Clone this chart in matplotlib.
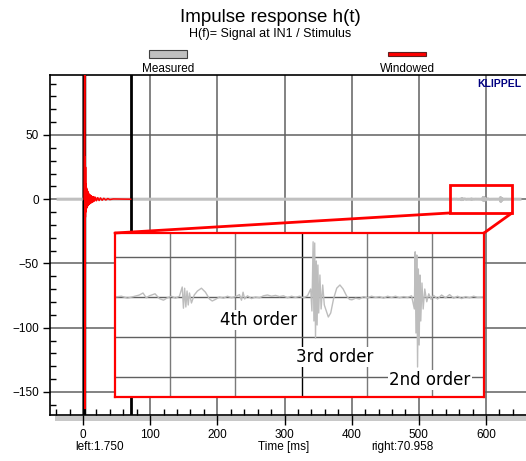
import matplotlib.pyplot as plt
from matplotlib.patches import Rectangle, ConnectionPatch
from matplotlib.ticker import MultipleLocator

plt.rcParams['font.family'] = ['Liberation Sans', 'DejaVu Sans']

# Measured impulse response (grey), ms / amplitude
meas_t = [-37.0, 546.4, 548.0, 549.5, 551.0, 552.5, 553.4, 554.2, 555.0, 556.4, 557.5, 558.5,
          559.5, 560.5, 561.5, 562.5, 563.2, 563.5, 563.8, 564.1, 564.4, 564.7, 565.0, 565.5,
          566.2, 567.0, 568.0, 569.0, 570.0, 570.7, 571.5, 572.5, 573.5, 574.5, 575.5, 576.5,
          577.5, 578.0, 578.4, 578.8, 579.5, 580.5, 581.5, 582.5, 583.5, 584.5, 585.5, 586.5,
          587.5, 588.5, 589.5, 590.5, 591.5, 592.5, 593.5, 594.5, 595.3, 595.6, 595.9, 596.1,
          596.3, 596.5, 596.7, 596.9, 597.1, 597.3, 597.6, 597.9, 598.3, 598.7, 599.2, 599.7,
          600.3, 601.0, 601.8, 602.6, 603.4, 604.3, 605.0, 605.6, 606.5, 607.5, 608.5, 609.5,
          610.5, 611.5, 612.5, 613.5, 614.5, 615.5, 616.5, 617.5, 618.5, 619.5, 620.5, 621.2,
          621.4, 621.6, 621.8, 622.0, 622.2, 622.4, 622.6, 622.8, 623.1, 623.4, 623.8, 624.3,
          624.8, 625.4, 626.0, 627.0, 628.0, 629.0, 630.0, 631.0, 632.0, 633.0, 634.0, 635.0,
          636.0, 637.0, 638.6, 645.0, 650.5]
meas_v = [0.0, 0.0, 0.02, -0.03, 0.01, 0.05, 0.10, -0.02, 0.03, 0.08, -0.04, -0.08,
          -0.02, 0.02, -0.03, 0.02, 0.25, -0.28, 0.22, -0.25, 0.15, -0.20, 0.10, -0.15,
          0.05, 0.15, 0.22, 0.12, -0.05, -0.10, -0.06, 0.00, -0.03, 0.02, -0.02, 0.01,
          0.06, -0.08, 0.12, -0.05, 0.03, -0.04, 0.00, -0.02, 0.03, 0.05, 0.02, 0.04,
          0.01, 0.03, -0.02, 0.02, -0.01, 0.02, -0.02, 0.03, 0.20, -0.35, 1.38, -0.60,
          1.35, -1.03, 0.90, -0.70, 0.80, -0.40, 0.55, -0.30, 0.30, -0.20, -0.35, -0.50,
          -0.40, -0.05, 0.22, 0.30, 0.20, 0.02, -0.06, -0.07, -0.03, -0.05, 0.01, -0.02,
          0.02, -0.01, 0.01, -0.03, 0.02, -0.01, 0.02, -0.02, 0.01, -0.01, 0.03, -0.30,
          1.13, -0.90, 1.05, -1.75, 0.70, -1.20, 0.55, -0.60, 0.35, -0.30, 0.20, -0.12,
          0.08, -0.06, 0.04, -0.05, 0.05, -0.02, 0.06, -0.03, 0.02, -0.04, 0.01, -0.02,
          0.02, -0.01, 0.00, 0.00, 0.00]

# Windowed impulse response (red)
win_t = [1.75, 2.6, 3.0, 3.3, 3.6, 3.9, 4.2, 4.5, 4.8, 5.1, 5.4, 5.7, 6.0, 6.4, 6.8, 7.2,
         7.6, 8.0, 8.5, 9.0, 9.5, 10.0, 10.6, 11.2, 11.8, 12.5, 13.2, 14.0, 15.0, 16.0,
         17.0, 18.5, 20.0, 22.0, 24.0, 26.0, 28.5, 31.0, 34.0, 37.0, 40.0, 45.0, 70.958]
win_v = [0, 120, -163, 33, -14, 25, -10, 12, -9, 9, -7, 8, -6, 7, -5, 6,
         -5, 5, -4, 4, -4, 3.5, -3, 3, -3, 2.5, -2.5, 2, -2, 2,
         -1.5, 1.5, -1.2, 1.2, -1, 1, -0.8, 0.7, -0.6, 0.5, -0.3, 0.2, 0]

win_left, win_right = 1.750, 70.958
zoom_box = (546.4, 638.7, -10.7, 11.1)
inset_grid_x = [560.1, 576.4, 609.4, 625.6]
inset_black_x = 593.1
inset_grid_y = [1, 0, -1, -2]
orders = ['4th order', '3rd order', '2nd order']
order_t = [582.2, 601.4, 625.0]
order_v = [-0.575, -1.5, -2.075]

W, H = 526, 461
fig = plt.figure(figsize=(W / 100, H / 100), dpi=100)
ax = fig.add_axes([50 / W, 46 / H, 476 / W, 340 / H])
ax.set_xlim(-49.1, 659.5)
ax.set_ylim(-168, 96.7)

ax.xaxis.set_major_locator(MultipleLocator(100))
ax.xaxis.set_minor_locator(MultipleLocator(20))
ax.yaxis.set_major_locator(MultipleLocator(50))
ax.yaxis.set_minor_locator(MultipleLocator(10))
ax.grid(True, which='major', color='#606060', lw=1.1)
ax.tick_params(axis='x', which='major', direction='out', length=7, width=1, labelsize=8.5, pad=3)
ax.tick_params(axis='y', which='major', direction='out', length=5, width=1, labelsize=8.5, pad=3)
ax.tick_params(which='minor', direction='in', length=4, width=1)
ax.spines['right'].set_visible(False)
for s in ('left', 'bottom', 'top'):
    ax.spines[s].set_linewidth(1.2)

ax.plot(meas_t, meas_v, color='#c0c0c0', lw=2.2, zorder=3)
ax.axvline(win_left, color='black', lw=2.5, zorder=4)
ax.axvline(win_right, color='black', lw=2, zorder=4)
ax.plot(win_t, win_v, color='red', lw=1.1, zorder=5)

x0, x1, y0, y1 = zoom_box
ax.add_patch(Rectangle((x0, y0), x1 - x0, y1 - y0, fill=False, edgecolor='red', lw=2, zorder=6))

# inset magnifying the zoom box
axin = fig.add_axes([115 / W, 64 / H, 369 / W, 164 / H])
axin.set_facecolor('white')
axin.set_xlim(546.4, 638.6)
axin.set_ylim(-2.5, 1.6)
axin.set_xticks([])
axin.set_yticks([])
for x in inset_grid_x:
    axin.axvline(x, color='#7a7a7a', lw=1, zorder=1)
axin.axvline(inset_black_x, color='black', lw=1, zorder=1)
for y in inset_grid_y:
    axin.axhline(y, color='#606060', lw=1, zorder=1)
axin.plot(meas_t, meas_v, color='#bdbdbd', lw=1, zorder=2)
for s in axin.spines.values():
    s.set_edgecolor('red')
    s.set_linewidth(1.6)
for txt, t, v in zip(orders, order_t, order_v):
    axin.text(t, v, txt, family='DejaVu Sans', fontsize=12, ha='center', va='center',
              bbox=dict(facecolor='white', edgecolor='none', pad=1), zorder=3)

for xy_src, xy_dst in (((x0, y0), (0, 1)), ((x1, y0), (1, 1))):
    con = ConnectionPatch(xyA=xy_src, coordsA=ax.transData, xyB=xy_dst, coordsB=axin.transAxes,
                          color='red', lw=2)
    fig.add_artist(con)

# shadow under x axis
fig.patches.append(Rectangle((55 / W, 40 / H), 471 / W, 5 / H, transform=fig.transFigure,
                             facecolor='#c8c8c8', edgecolor='none', zorder=-1))

# titles and legend
fig.text(270 / W, 1 - 18 / H, 'Impulse response h(t)', ha='center', va='center', fontsize=13.5)
fig.text(270 / W, 1 - 34 / H, 'H(f)= Signal at IN1 / Stimulus', ha='center', va='center', fontsize=9)
fig.patches.append(Rectangle((149 / W, 1 - 58 / H), 38 / W, 8 / H, transform=fig.transFigure,
                             facecolor='#c0c0c0', edgecolor='#404040', lw=0.8))
fig.patches.append(Rectangle((388 / W, 1 - 56.5 / H), 38 / W, 4.5 / H, transform=fig.transFigure,
                             facecolor='red', edgecolor='#602020', lw=0.8))
fig.text(168 / W, 1 - 69 / H, 'Measured', ha='center', va='center', fontsize=8.5)
fig.text(407 / W, 1 - 69 / H, 'Windowed', ha='center', va='center', fontsize=8.5)
fig.text(521 / W, 1 - 84 / H, 'KLIPPEL', ha='right', va='center', fontsize=7.5,
         fontweight='bold', color='#000080')

fig.text(100 / W, 1 - 447 / H, 'left:%.3f' % win_left, ha='center', va='center', fontsize=8.5)
fig.text(284 / W, 1 - 447 / H, 'Time [ms]', ha='center', va='center', fontsize=8.5)
fig.text(402 / W, 1 - 447 / H, 'right:%.3f' % win_right, ha='center', va='center', fontsize=8.5)

fig.savefig('out.png', dpi=100)
